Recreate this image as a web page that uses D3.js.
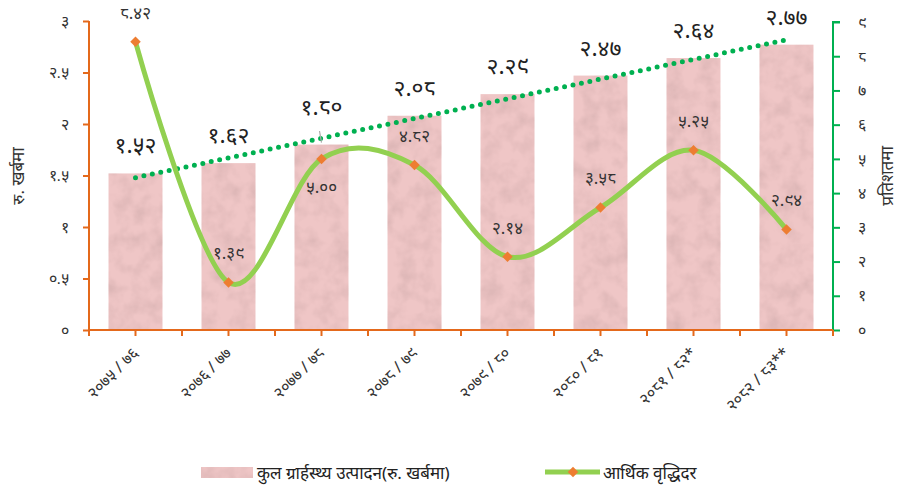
<!DOCTYPE html>
<html lang="ne">
<head>
<meta charset="UTF-8">
<title>कुल ग्रार्हस्थ्य उत्पादन र आर्थिक वृद्धिदर</title>
<script src="https://d3js.org/d3.v7.min.js"></script>
<style>
    body { margin: 0; background: #fff; font-family: "Noto Sans", "Noto Sans Devanagari", "Lato", sans-serif; }
    svg { display: block; }
    .tick text { fill: #333; font-size: 16px; }
</style>
</head>
<body>
<svg id="chart" width="908" height="492"></svg>
<script>
    const years = ['२०७५/७६', '२०७६/७७', '२०७७/७८', '२०७८/७९', '२०७९/८०', '२०८०/८१', '२०८१/८२*', '२०८२/८३**'];
    const gdp = [1.52, 1.62, 1.80, 2.08, 2.29, 2.47, 2.64, 2.77];
    const growth = [8.42, 1.39, 5.00, 4.82, 2.14, 3.58, 5.25, 2.94];
    const leftTicks = [0, 0.5, 1, 1.5, 2, 2.5, 3];
    const rightTicks = [0, 1, 2, 3, 4, 5, 6, 7, 8, 9];

    const devDigits = '०१२३४५६७८९';
    const toDev = s => String(s).replace(/[0-9]/g, d => devDigits[+d]);

    const svg = d3.select('#chart');
    const orange = '#e4691b';
    const green = '#00b050';

    const x = d3.scaleBand().domain(years).range([89, 833]).paddingInner(0.42).paddingOuter(0.21);
    const yL = d3.scaleLinear().domain([0, 3]).range([330, 21]);
    const yR = d3.scaleLinear().domain([0, 9]).range([330, 22]);
    const cx = d => x(d) + x.bandwidth() / 2;

    // marble-ish texture for bars
    const defs = svg.append('defs');
    const f = defs.append('filter').attr('id', 'marble').attr('x', 0).attr('y', 0).attr('width', 1).attr('height', 1);
    f.append('feTurbulence').attr('type', 'fractalNoise').attr('baseFrequency', 0.06).attr('numOctaves', 3).attr('seed', 4).attr('result', 'noise');
    f.append('feColorMatrix').attr('in', 'noise').attr('type', 'matrix')
        .attr('values', '0 0 0 0 0.55  0 0 0 0 0.35  0 0 0 0 0.35  0 0 0 -0.9 0.55').attr('result', 'tint');
    f.append('feComposite').attr('in', 'tint').attr('in2', 'SourceGraphic').attr('operator', 'in').attr('result', 'tintIn');
    f.append('feMerge').selectAll('feMergeNode').data(['SourceGraphic', 'tintIn']).enter()
        .append('feMergeNode').attr('in', d => d);

    // bars
    svg.append('g').selectAll('rect').data(years).enter().append('rect')
        .attr('x', d => x(d))
        .attr('y', (d, i) => yL(gdp[i]))
        .attr('width', x.bandwidth())
        .attr('height', (d, i) => yL(0) - yL(gdp[i]))
        .attr('fill', '#efc6c6')
        .attr('filter', 'url(#marble)');

    // left axis
    const axL = svg.append('g').attr('transform', 'translate(89,0)')
        .call(d3.axisLeft(yL).tickValues(leftTicks).tickSize(6).tickPadding(14).tickFormat(d => toDev(d)));
    axL.selectAll('line, path').attr('stroke', orange).attr('stroke-width', 2);
    axL.select('.domain').attr('d', 'M0,21V336');

    // right axis
    const axR = svg.append('g').attr('transform', 'translate(833,0)')
        .call(d3.axisRight(yR).tickValues(rightTicks).tickSize(7).tickPadding(18).tickFormat(d => toDev(d)));
    axR.selectAll('line, path').attr('stroke', green).attr('stroke-width', 2);
    axR.select('.domain').attr('d', 'M7,22H0V330');

    // bottom axis: ticks at band edges and centres
    const bottom = svg.append('g');
    bottom.append('line').attr('x1', 89).attr('x2', 833).attr('y1', 330).attr('y2', 330)
        .attr('stroke', orange).attr('stroke-width', 2);
    const tickXs = [];
    years.forEach(d => { tickXs.push(x(d) - x.step() * 0.21, cx(d)); });
    tickXs.push(833);
    bottom.selectAll('.bt').data(tickXs).enter().append('line')
        .attr('x1', d => d).attr('x2', d => d).attr('y1', 330).attr('y2', 336)
        .attr('stroke', orange).attr('stroke-width', 2);
    bottom.selectAll('.xl').data(years).enter().append('text')
        .attr('transform', d => `translate(${cx(d) + 4},354) rotate(-45)`)
        .attr('text-anchor', 'end')
        .attr('font-size', 16)
        .attr('fill', '#333')
        .text(d => toDev(d).replace('/', ' / '));

    // linear trend of GDP
    const n = gdp.length;
    const mx = d3.mean(gdp, (v, i) => i), my = d3.mean(gdp);
    const slope = d3.sum(gdp, (v, i) => (i - mx) * (v - my)) / d3.sum(gdp, (v, i) => (i - mx) ** 2);
    const icpt = my - slope * mx;
    svg.append('line')
        .attr('x1', cx(years[0])).attr('y1', yL(icpt))
        .attr('x2', cx(years[n - 1])).attr('y2', yL(icpt + slope * (n - 1)))
        .attr('stroke', green).attr('stroke-width', 5)
        .attr('stroke-linecap', 'round').attr('stroke-dasharray', '0 8.6');

    // growth line
    const line = d3.line().x((d, i) => cx(years[i])).y(d => yR(d)).curve(d3.curveCardinal.tension(0));
    svg.append('path').datum(growth).attr('d', line)
        .attr('fill', 'none').attr('stroke', '#92d050').attr('stroke-width', 5);
    const diamond = d3.symbol().type(d3.symbolDiamond2).size(70);
    svg.append('g').selectAll('path').data(growth).enter().append('path')
        .attr('d', diamond)
        .attr('transform', (d, i) => `translate(${cx(years[i])},${yR(d)})`)
        .attr('fill', '#ed7d31');

    // bar value labels
    svg.append('line').attr('x1', cx(years[2]) - 2).attr('y1', 131).attr('x2', cx(years[2])).attr('y2', yL(gdp[2]) - 2)
        .attr('stroke', '#aaa').attr('stroke-width', 1.2);
    svg.append('g').selectAll('text').data(gdp).enter().append('text')
        .attr('x', (d, i) => cx(years[i]))
        .attr('y', (d, i) => yL(d) - (i === 2 ? 30 : 20))
        .attr('text-anchor', 'middle')
        .attr('font-size', 23)
        .attr('fill', '#222')
        .text(d => toDev(d.toFixed(2)));

    // growth value labels
    svg.append('g').selectAll('text').data(growth).enter().append('text')
        .attr('x', (d, i) => cx(years[i]))
        .attr('y', (d, i) => yR(d) + (i === 2 ? 34 : -23))
        .attr('text-anchor', 'middle')
        .attr('font-size', 17)
        .attr('fill', '#333')
        .text(d => toDev(d.toFixed(2)));

    // axis titles
    svg.append('text').attr('transform', 'translate(24,176) rotate(-90)')
        .attr('text-anchor', 'middle').attr('font-size', 17).attr('fill', '#333').text('रु. खर्बमा');
    svg.append('text').attr('transform', 'translate(893,176) rotate(-90)')
        .attr('text-anchor', 'middle').attr('font-size', 17).attr('fill', '#333').text('प्रतिशतमा');

    // legend
    const lg = svg.append('g');
    lg.append('rect').attr('x', 201).attr('y', 467).attr('width', 52).attr('height', 11)
        .attr('fill', '#efc6c6').attr('filter', 'url(#marble)');
    lg.append('text').attr('x', 257).attr('y', 479).attr('font-size', 17).attr('fill', '#222')
        .text('कुल ग्रार्हस्थ्य उत्पादन(रु. खर्बमा)');
    lg.append('line').attr('x1', 545).attr('x2', 600).attr('y1', 472).attr('y2', 472)
        .attr('stroke', '#92d050').attr('stroke-width', 5);
    lg.append('path').attr('d', diamond).attr('transform', 'translate(573,472)').attr('fill', '#ed7d31');
    lg.append('text').attr('x', 603).attr('y', 479).attr('font-size', 17).attr('fill', '#222')
        .text('आर्थिक वृद्धिदर');
</script>
</body>
</html>
